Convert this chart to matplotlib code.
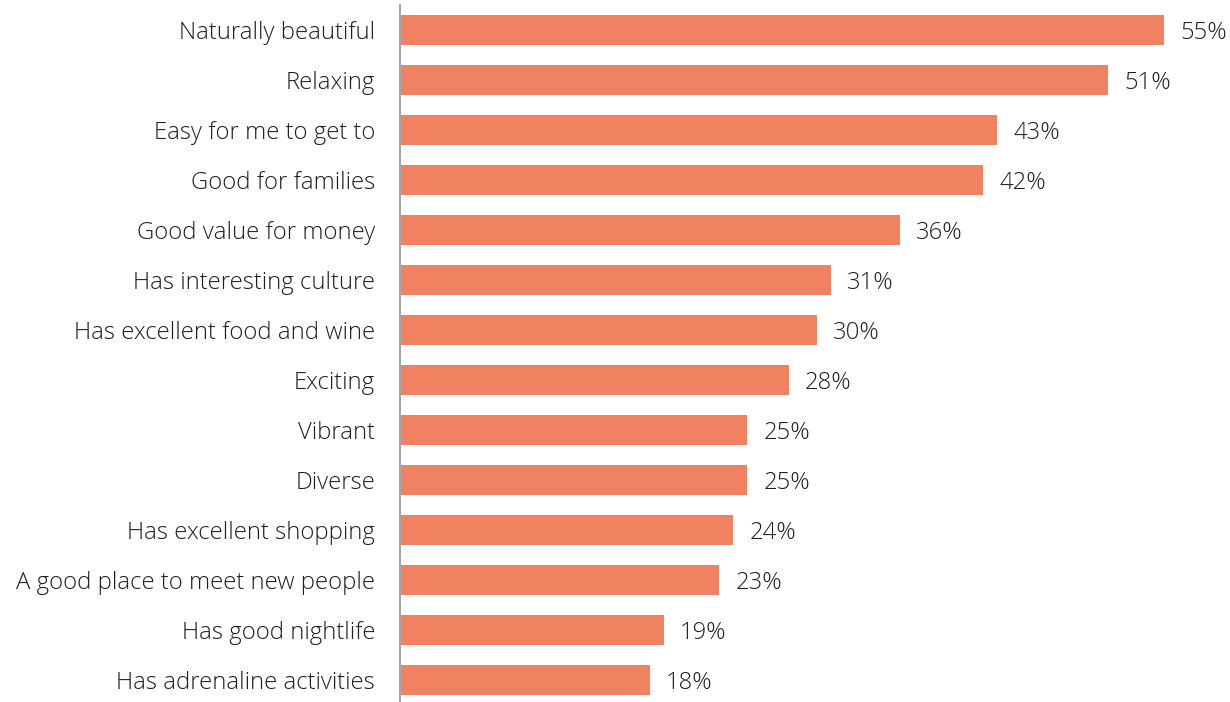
import matplotlib
matplotlib.use("Agg")
import matplotlib.pyplot as plt

categories = [
    "Naturally beautiful",
    "Relaxing",
    "Easy for me to get to",
    "Good for families",
    "Good value for money",
    "Has interesting culture",
    "Has excellent food and wine",
    "Exciting",
    "Vibrant",
    "Diverse",
    "Has excellent shopping",
    "A good place to meet new people",
    "Has good nightlife",
    "Has adrenaline activities",
]
values = [55, 51, 43, 42, 36, 31, 30, 28, 25, 25, 24, 23, 19, 18]

plt.rcParams["font.family"] = ["Open Sans", "DejaVu Sans"]

W, H = 1230, 702
fig = plt.figure(figsize=(W / 100, H / 100), dpi=100)
ax = fig.add_axes([400 / W, (H - 705) / H, (W - 400) / W, 700 / H])

bar_color = "#F08262"
text_color = "#1F1F1F"
fsize = 17.2
y = list(range(len(categories)))
ax.barh(y, values, height=0.6, color=bar_color)
ax.set_ylim(len(categories) - 0.5, -0.5)
ax.set_xlim(0, 830 / 13.89)

for yi, v in zip(y, values):
    ax.annotate(f"{v}%", xy=(v, yi), xytext=(11.5, -2.5), textcoords="offset points",
                ha="left", va="center", fontsize=fsize, color=text_color,
                fontweight="light")

ax.set_yticks(y)
ax.set_yticklabels(categories, fontsize=fsize, color=text_color, fontweight="light")
ax.tick_params(axis="y", length=0, pad=18)
ax.set_xticks([])

for s in ["top", "right", "bottom"]:
    ax.spines[s].set_visible(False)
ax.spines["left"].set_color("#A6A6A6")
ax.spines["left"].set_linewidth(1.5)

fig.savefig("out.png", dpi=100, facecolor="white")
